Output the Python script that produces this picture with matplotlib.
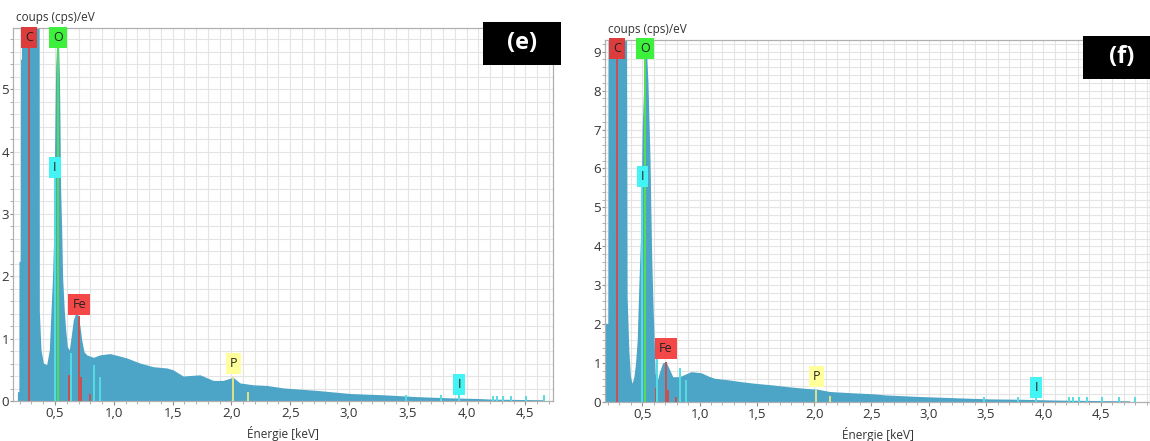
import numpy as np
import matplotlib
matplotlib.use("Agg")
import matplotlib.pyplot as plt
from matplotlib.ticker import MultipleLocator, FuncFormatter
from matplotlib.patches import Rectangle

plt.rcParams['font.family'] = ['Open Sans', 'DejaVu Sans']

# spectrum (e): energy [keV], counts [cps/eV]
energy_e = [0.180, 0.181, 0.193, 0.194, 0.205, 0.207, 0.215, 0.217, 0.365, 0.367,
            0.381, 0.401, 0.429, 0.452, 0.463, 0.477, 0.489, 0.494, 0.500, 0.506,
            0.515, 0.530, 0.538, 0.543, 0.548, 0.557, 0.565, 0.579, 0.591, 0.605,
            0.622, 0.636, 0.656, 0.676, 0.693, 0.713, 0.727, 0.747, 0.770, 0.826,
            0.883, 0.968, 1.053, 1.110, 1.220, 1.334, 1.450, 1.504, 1.590, 1.733,
            1.845, 1.930, 2.015, 2.073, 2.185, 2.300, 2.440, 2.580, 2.725, 3.010,
            3.290, 3.580, 3.860, 4.090, 4.220, 4.650, 4.670]
counts_e = [0.0, 0.15, 0.15, 2.24, 2.24, 5.48, 5.48, 7.0, 7.0, 1.44,
            0.82, 0.61, 0.58, 0.82, 1.30, 1.89, 2.62, 3.60, 4.52, 5.35,
            5.75, 5.75, 5.19, 4.39, 3.40, 2.75, 1.98, 1.46, 1.14, 0.87,
            0.82, 1.01, 1.30, 1.41, 1.39, 1.19, 0.98, 0.79, 0.74, 0.70,
            0.74, 0.76, 0.72, 0.69, 0.61, 0.55, 0.53, 0.50, 0.40, 0.42,
            0.33, 0.33, 0.38, 0.29, 0.26, 0.25, 0.21, 0.19, 0.17, 0.12,
            0.10, 0.07, 0.05, 0.04, 0.03, 0.02, 0.0]

# spectrum (f)
energy_f = [0.178, 0.200, 0.203, 0.362, 0.368, 0.383, 0.397, 0.412, 0.427, 0.441,
            0.456, 0.471, 0.486, 0.492, 0.500, 0.515, 0.525, 0.540, 0.550, 0.568,
            0.574, 0.583, 0.595, 0.604, 0.613, 0.627, 0.648, 0.677, 0.706, 0.736,
            0.766, 0.824, 0.927, 1.015, 1.074, 1.130, 1.250, 1.368, 1.486, 1.633,
            1.780, 1.927, 2.030, 2.134, 2.310, 2.516, 2.630, 2.930, 3.220, 3.520,
            3.810, 4.100, 4.400, 4.750, 4.760]
counts_f = [2.02, 2.02, 11.0, 11.0, 2.71, 1.34, 0.65, 0.48, 0.65, 0.99,
            1.59, 3.05, 4.34, 5.50, 7.08, 8.28, 8.84, 8.84, 8.19, 6.22,
            5.10, 3.65, 2.37, 1.59, 0.74, 0.50, 0.75, 1.00, 1.04, 0.85,
            0.65, 0.65, 0.78, 0.75, 0.67, 0.61, 0.57, 0.52, 0.48, 0.44,
            0.39, 0.35, 0.33, 0.27, 0.24, 0.21, 0.18, 0.14, 0.11, 0.08,
            0.07, 0.05, 0.04, 0.03, 0.0]

# element marker lines: energy, element
line_energy = [0.277, 0.525, 0.500, 0.619, 0.705, 0.721, 0.795, 0.633, 0.832, 0.880,
               2.014, 2.139, 3.485, 3.780, 3.937, 4.221, 4.260, 4.314, 4.380, 4.507,
               4.660, 4.800]
line_elem = ['C', 'O', 'I', 'Fe', 'Fe', 'Fe', 'Fe', 'I', 'I', 'I',
             'P', 'P', 'I', 'I', 'I', 'I', 'I', 'I', 'I', 'I', 'I', 'I']
line_height_e = [5.67, 5.67, 3.58, 0.42, 1.36, 0.39, 0.12, 0.77, 0.58, 0.39,
                 0.39, 0.15, 0.10, 0.10, 0.10, 0.08, 0.08, 0.08, 0.08, 0.08,
                 0.10, 0.10]
line_height_f = [8.84, 8.84, 5.53, 0.35, 1.04, 0.31, 0.14, 1.16, 0.87, 0.57,
                 0.31, 0.15, 0.12, 0.12, 0.12, 0.12, 0.12, 0.12, 0.12, 0.12,
                 0.12, 0.12]

# labels: text, energy, height (centre of box)
label_text = ['C', 'O', 'I', 'Fe', 'P', 'I']
label_energy = [0.277, 0.525, 0.500, 0.705, 2.020, 3.937]
label_y_e = [5.82, 5.82, 3.74, 1.54, 0.60, 0.26]
label_y_f = [9.07, 9.07, 5.79, 1.38, 0.66, 0.37]

line_colors = {'C': '#c85050', 'O': '#55dd55', 'I': '#55dde2', 'Fe': '#c85050', 'P': '#e2e28a'}
box_colors = {'C': '#dc3c3c', 'O': '#3cf03c', 'I': '#44f4f4', 'Fe': '#f44848', 'P': '#ffff9c'}

spec_color = '#4ca4c6'
grid_color = '#e4e4e4'
edge_color = '#b0b0b0'

fig = plt.figure(figsize=(11.5, 4.41), dpi=100)
W, H = 1150, 441

ax_e = fig.add_axes([13 / W, 40 / H, 540 / W, 373 / H])
ax_f = fig.add_axes([605 / W, 39 / H, 545 / W, 362 / H])


def comma(v, pos):
    return f"{v:.1f}".replace('.', ',')


def draw_panel(ax, energy, counts, heights, label_y, xlim, ylim):
    ax.set_axisbelow(True)
    ax.fill_between(energy, counts, 0, color=spec_color, lw=0, zorder=2)
    for e, el, h in zip(line_energy, line_elem, heights):
        ax.vlines(e, 0, h, colors=line_colors[el], lw=1.4, zorder=3)
    for t, e, y in zip(label_text, label_energy, label_y):
        ax.text(e, y, t, ha='center', va='center', fontsize=9, color='#222222', zorder=4,
                bbox=dict(boxstyle='square,pad=0.32', fc=box_colors[t], ec='none'))
    ax.set_xlim(*xlim)
    ax.set_ylim(*ylim)
    ax.xaxis.set_major_locator(MultipleLocator(0.5))
    ax.xaxis.set_minor_locator(MultipleLocator(0.1))
    ax.yaxis.set_major_locator(MultipleLocator(1))
    ax.yaxis.set_minor_locator(MultipleLocator(0.2))
    ax.xaxis.set_major_formatter(FuncFormatter(comma))
    ax.grid(True, which='both', color=grid_color, lw=0.8)
    ax.tick_params(which='major', length=3, width=0.8, color='#909090',
                   labelsize=9.5, labelcolor='#333333', pad=1.5)
    ax.tick_params(axis='y', which='major', length=2, pad=0.8)
    ax.tick_params(which='minor', length=2.5, width=0.6, color='#a0a0a0')
    for s in ax.spines.values():
        s.set_color(edge_color)
        s.set_linewidth(0.9)
    ax.set_xlabel('Énergie [keV]', fontsize=8.5, color='#333333', labelpad=4)
    ax.annotate('coups (cps)/eV', xy=(0, 1), xycoords='axes fraction',
                xytext=(2, 3), textcoords='offset points', ha='left', va='bottom',
                fontsize=8.5, color='#333333')


draw_panel(ax_e, energy_e, counts_e, line_height_e, label_y_e, (0.143, 4.735), (0, 5.98))
draw_panel(ax_f, energy_f, counts_f, line_height_f, label_y_f, (0.175, 4.93), (0, 9.3))

# panel tags
for (x0, y0, w, h), tag in [((483, 22, 78, 43), '(e)'), ((1083, 36, 70, 43), '(f)')]:
    fig.patches.append(Rectangle((x0 / W, 1 - (y0 + h) / H), w / W, h / H,
                                 transform=fig.transFigure, fc='black', ec='none', zorder=10))
    cx = (x0 + w / 2) / W if tag == '(e)' else 1122 / W
    fig.text(cx, 1 - (y0 + h / 2) / H, tag, ha='center', va='center', color='white',
             fontsize=17, fontweight='bold', zorder=11)

fig.savefig('out.png', dpi=100)
plt.close(fig)
